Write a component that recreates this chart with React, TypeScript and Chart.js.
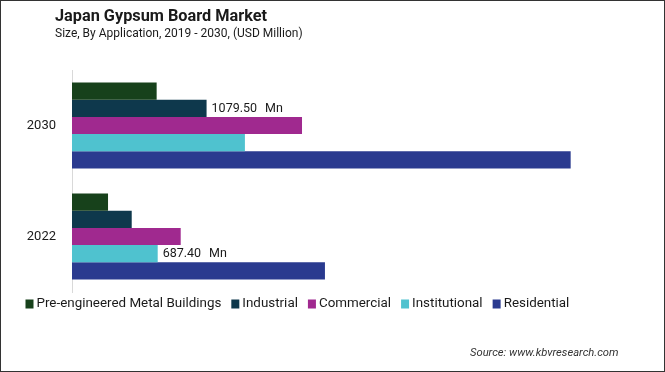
import React, { useEffect, useRef } from "react";
import { Chart, registerables } from "chart.js";

Chart.register(...registerables);

// ---- data ----
const years = ["2030", "2022"];
const seriesNames = [
  "Pre-engineered Metal Buildings",
  "Industrial",
  "Commercial",
  "Institutional",
  "Residential",
];
const preEngineered = [679, 289];
const industrial = [1079.5, 479];
const commercial = [1845, 872];
const institutional = [1387, 687.4];
const residential = [4000, 2029];
const seriesColors = ["#17411b", "#0e384c", "#a0298f", "#4fc2cf", "#2a3a8f"];
// bars that carry a value label: [series name, year]
const labelledBars: [string, string][] = [
  ["Industrial", "2030"],
  ["Institutional", "2022"],
];
const unit = "Mn";

const FONT = "Roboto, 'Noto Sans', sans-serif";

const valueLabelPlugin = {
  id: "valueLabels",
  afterDatasetsDraw(chart: any) {
    const ctx = chart.ctx;
    ctx.save();
    ctx.font = `12.5px ${FONT}`;
    ctx.fillStyle = "#1a1a1a";
    ctx.textBaseline = "middle";
    ctx.textAlign = "left";
    labelledBars.forEach(([name, year]) => {
      const di = chart.data.datasets.findIndex((d: any) => d.label === name);
      const idx = chart.data.labels.indexOf(year);
      if (di < 0 || idx < 0) return;
      const el = chart.getDatasetMeta(di).data[idx];
      const v = chart.data.datasets[di].data[idx] as number;
      const num = v.toFixed(2);
      const x = el.x + 5;
      const y = el.y + 0.5;
      ctx.fillText(num, x, y);
      const w = ctx.measureText(num).width;
      ctx.fillText(unit, x + w + 8, y);
    });
    ctx.restore();
  },
};

const legendPlugin = {
  id: "customLegend",
  afterDraw(chart: any) {
    const ctx = chart.ctx;
    ctx.save();
    ctx.font = `13.4px ${FONT}`;
    ctx.textBaseline = "middle";
    ctx.textAlign = "left";
    let x = 24.5;
    const yc = chart.chartArea.bottom + 11.5;
    chart.data.datasets.forEach((ds: any) => {
      ctx.fillStyle = ds.backgroundColor;
      ctx.fillRect(x, yc - 4, 8, 9);
      ctx.fillStyle = "#1a1a1a";
      ctx.fillText(ds.label, x + 11, yc);
      x += 11 + ctx.measureText(ds.label).width + 10;
    });
    ctx.restore();
  },
};

export default function App() {
  const ref = useRef<HTMLCanvasElement | null>(null);

  useEffect(() => {
    document.body.style.margin = "0";
    if (!ref.current) return;
    const seriesValues = [preEngineered, industrial, commercial, institutional, residential];
    const chart = new Chart(ref.current, {
      type: "bar",
      data: {
        labels: years,
        datasets: seriesNames.map((name, i) => ({
          label: name,
          data: seriesValues[i],
          backgroundColor: seriesColors[i],
          borderWidth: 0,
          categoryPercentage: 0.775,
          barPercentage: 1,
        })),
      },
      options: {
        indexAxis: "y",
        responsive: false,
        animation: false,
        devicePixelRatio: 1,
        layout: { padding: { left: 0, top: 69, right: 31, bottom: 79 } },
        plugins: {
          legend: { display: false },
          tooltip: { enabled: false },
          title: { display: false },
        },
        scales: {
          x: { display: false, min: 0, max: 4500 },
          y: {
            grid: { display: false, drawTicks: false },
            border: { display: true, color: "#d9d9d9", width: 1 },
            ticks: {
              padding: 16,
              color: "#1a1a1a",
              font: { family: FONT, size: 13 },
            },
            afterFit(scale: any) {
              scale.width = 71;
            },
          },
        },
      },
      plugins: [valueLabelPlugin, legendPlugin],
    });
    return () => chart.destroy();
  }, []);

  return (
    <div
      style={{
        position: "relative",
        width: 665,
        height: 372,
        boxSizing: "border-box",
        border: "1px solid #333",
        background: "#fff",
        fontFamily: FONT,
        overflow: "hidden",
      }}
    >
      <canvas
        ref={ref}
        width={663}
        height={370}
        style={{ position: "absolute", left: 0, top: 0, width: 663, height: 370 }}
      />
      <div
        style={{
          position: "absolute",
          left: 54,
          top: 6.5,
          fontSize: 16.3,
          lineHeight: "16px",
          fontWeight: 700,
          color: "#1a1a1a",
          whiteSpace: "nowrap",
        }}
      >
        Japan Gypsum Board Market
      </div>
      <div
        style={{
          position: "absolute",
          left: 54,
          top: 26,
          fontSize: 12,
          lineHeight: "12px",
          color: "#1a1a1a",
          whiteSpace: "nowrap",
        }}
      >
        Size, By Application, 2019 - 2030, (USD Million)
      </div>
      <div
        style={{
          position: "absolute",
          left: 469,
          top: 346,
          fontSize: 11.2,
          lineHeight: "11.5px",
          fontStyle: "italic",
          color: "#333",
          whiteSpace: "nowrap",
        }}
      >
        Source: www.kbvresearch.com
      </div>
    </div>
  );
}
